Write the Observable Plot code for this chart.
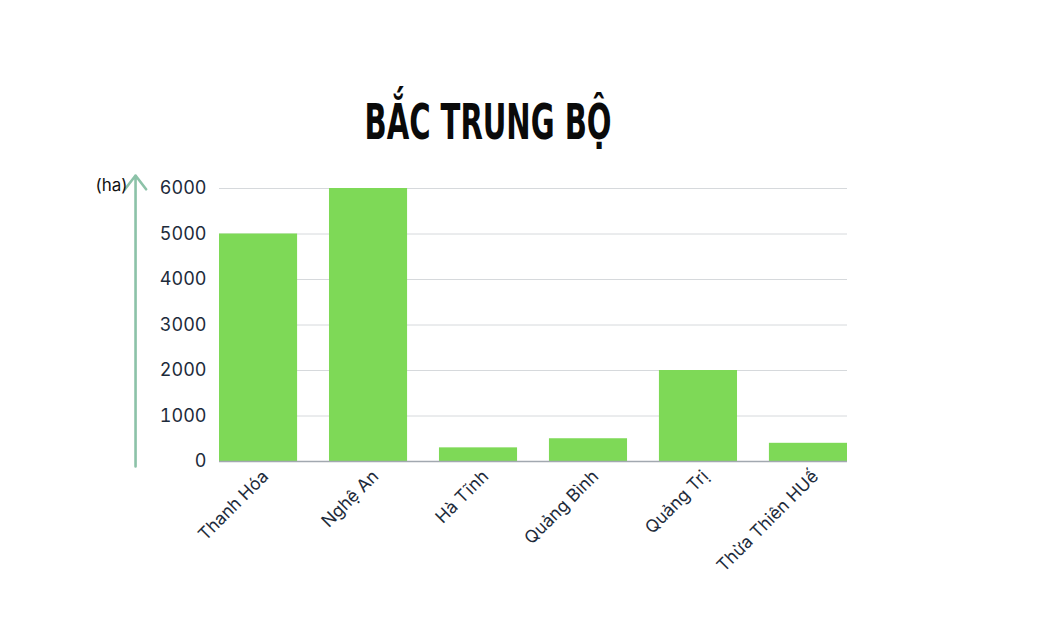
<!DOCTYPE html>
<html>
<head>
<meta charset="utf-8">
<script src="https://cdn.jsdelivr.net/npm/d3@7"></script>
<script src="https://cdn.jsdelivr.net/npm/@observablehq/plot@0.6"></script>
<style>
  html, body { margin: 0; padding: 0; background: #ffffff; }
  #wrap { position: relative; width: 1039px; height: 635px; overflow: hidden; }
  #title {
    position: absolute; top: 92px; left: 488px;
    margin: 0; white-space: nowrap;
    font-family: "DejaVu Sans", sans-serif; font-weight: 900; font-stretch: condensed;
    font-size: 50px; line-height: 60px; color: #0a0a0a;
    transform-origin: 0 0;
  }
  #chart { position: absolute; top: 0; left: 0; }
</style>
</head>
<body>
<div id="wrap">
  <h1 id="title">BẮC TRUNG BỘ</h1>
  <div id="chart"></div>
</div>
<script>
// Cultivated area by province, Bắc Trung Bộ region (ha)
const provinces = ["Thanh Hóa", "Nghệ An", "Hà Tĩnh", "Quảng Bình", "Quảng Trị", "Thừa Thiên HUế"];
const areas = [5000, 6000, 300, 500, 2000, 400];
const yTicks = [0, 1000, 2000, 3000, 4000, 5000, 6000];
const unitLabel = "(ha)";

const rows = provinces.map((p, i) => ({province: p, area: areas[i]}));

const textColor = "#1d2b3b";
const font = "Inter, 'Open Sans', sans-serif";

const chart = Plot.plot({
  width: 1039,
  height: 635,
  marginLeft: 219,
  marginRight: 192,
  marginTop: 188,
  marginBottom: 174,
  style: {fontFamily: font, fontSize: "17px", color: textColor, background: "transparent", overflow: "visible"},
  x: {domain: provinces, paddingInner: 0.29, paddingOuter: 0, align: 0.5, round: false},
  y: {domain: [0, 6000]},
  marks: [
    Plot.gridY(yTicks, {stroke: "#d6d9dc", strokeOpacity: 1, strokeWidth: 1}),
    Plot.barY(rows, {x: "province", y: "area", fill: "#7ed957"}),
    Plot.ruleY([0], {stroke: "#a2a8b0", strokeWidth: 1.5}),
    Plot.axisY(yTicks, {tickSize: 0, tickPadding: 13, label: null, tickFormat: d => String(d), fontSize: 18, fill: textColor}),
    Plot.axisX({tickSize: 0, tickPadding: 12, tickRotate: -45, dx: 7, label: null, fontSize: 17.5, fill: textColor}),
    // vertical axis arrow, drawn left of the first band
    Plot.arrow([0], {
      x1: () => provinces[0], x2: () => provinces[0],
      y1: () => 0, y2: () => 6000,
      dx: -123, insetStart: -5, insetEnd: -13,
      stroke: "#8cc2a8", strokeWidth: 2.6, headLength: 10, headAngle: 75
    }),
    Plot.text([unitLabel], {
      x: () => provinces[0], y: () => 6000, text: d => d,
      dx: -131, dy: -3, textAnchor: "end", fontSize: 17, fill: "#111111"
    })
  ]
});
document.getElementById("chart").appendChild(chart);

// squeeze the heading into a condensed display width, centred on its anchor
const title = document.getElementById("title");
const w = title.getBoundingClientRect().width;
const targetW = 247;
const s = targetW / w;
title.style.transform = `translateX(${-targetW / 2}px) scale(${s}, 1)`;
</script>
</body>
</html>
